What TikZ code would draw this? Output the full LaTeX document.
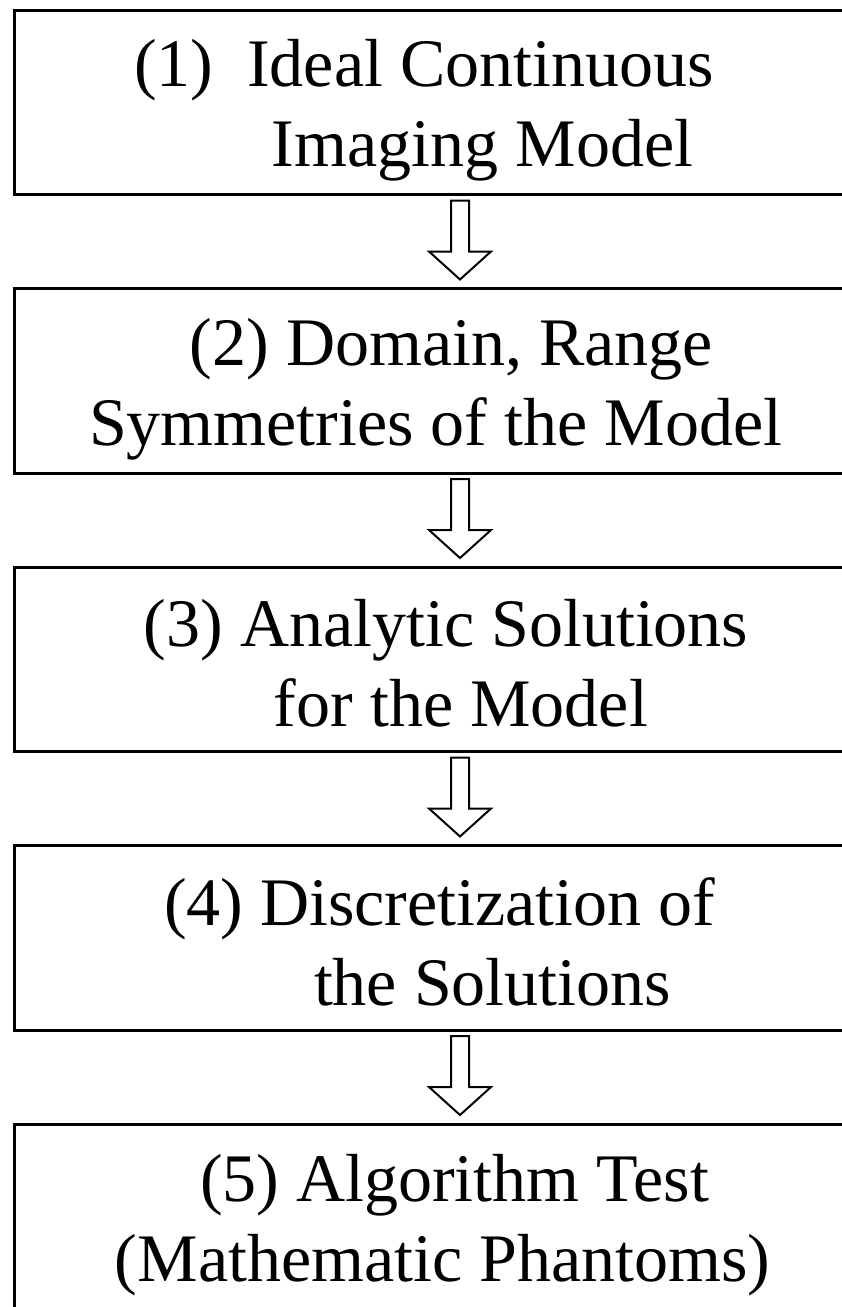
\documentclass[tikz,border=0pt]{standalone}
\usepackage{fontspec}
\setmainfont{Liberation Serif}
\usepackage{tikz}
\usetikzlibrary{positioning,calc}
\tikzset{
  stagebox/.style={draw, line width=1.5pt, rectangle, outer sep=0pt, inner xsep=0pt, inner ysep=0pt,
    minimum width=446pt, minimum height=92.25pt, text width=446pt, align=flush left,
    font=\fontsize{34pt}{40pt}\selectfont},
  blockarrow/.style={draw, line width=1pt, line join=miter, to path={
    ($(\tikztostart.south)+(-4.5pt,-3pt)$) -- ($(\tikztotarget.north)+(-4.5pt,18.5pt)$)
    -- ++(-11pt,0pt) -- ($(\tikztotarget.north)+(0pt,4.5pt)$) -- ++(15.5pt,14pt)
    -- ++(-11pt,0pt) -- ($(\tikztostart.south)+(4.5pt,-3pt)$) -- cycle}}
}
\newcommand{\firstline}{\rule{0pt}{32pt}}
\newcommand{\lastline}{\rule[-4.5pt]{0pt}{4.5pt}}

\begin{document}
\begin{tikzpicture}[node distance=47pt]
  \useasboundingbox (0pt,0pt) rectangle (420.5pt,-653.5pt);

  \node[stagebox, anchor=north west] (s1) at (7pt,-5pt)
    {\firstline\hspace*{60pt}(1)\hspace{17pt}Ideal Continuous\\\lastline\hspace*{129pt}Imaging Model};
  \node[stagebox, below=of s1] (s2)
    {\firstline\hspace*{88pt}(2) Domain, Range\\\lastline\hspace*{37.5pt}Symmetries of the Model};
  \node[stagebox, below=of s2] (s3)
    {\firstline\hspace*{65pt}(3) Analytic Solutions\\\lastline\hspace*{130pt}for the Model};
  \node[stagebox, below=of s3] (s4)
    {\firstline\hspace*{75pt}(4) Discretization of\\\lastline\hspace*{150pt}the Solutions};
  \node[stagebox, below=of s4] (s5)
    {\firstline\hspace*{93pt}(5) Algorithm Test\\\lastline\hspace*{50.5pt}(Mathematic Phantoms)};

  \draw[blockarrow] (s1) to (s2);
  \draw[blockarrow] (s2) to (s3);
  \draw[blockarrow] (s3) to (s4);
  \draw[blockarrow] (s4) to (s5);
\end{tikzpicture}
\end{document}
